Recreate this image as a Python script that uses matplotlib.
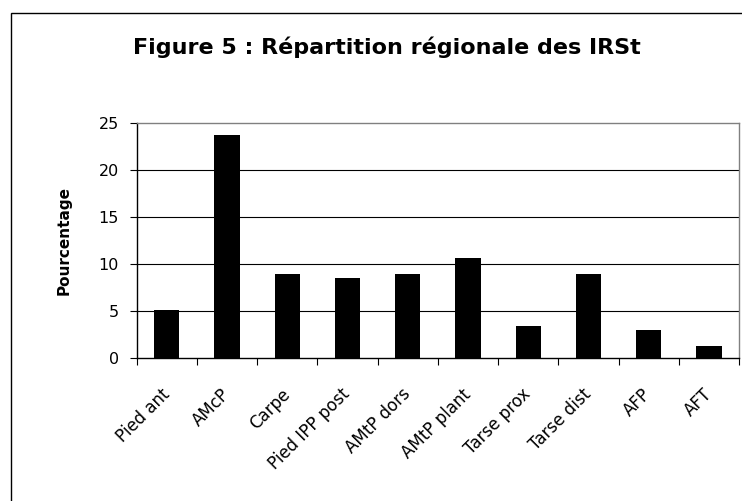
import matplotlib
matplotlib.use("Agg")
import matplotlib.pyplot as plt
from matplotlib.patches import Rectangle
import numpy as np

plt.rcParams['font.family'] = ['DejaVu Sans']

# données
regions = ['Pied ant', 'AMcP', 'Carpe', 'Pied IPP post', 'AMtP dors',
           'AMtP plant', 'Tarse prox', 'Tarse dist', 'AFP', 'AFT']
pourcentages = [5.1, 23.8, 9.0, 8.5, 9.0, 10.7, 3.4, 9.0, 3.0, 1.3]
yticks = [0, 5, 10, 15, 20, 25]

W, H = 742, 501
fig = plt.figure(figsize=(W / 100, H / 100), dpi=100)

# cadre extérieur (zone de graphique)
fig.patches.append(Rectangle((11 / W, -0.2), 1.2, (H - 13) / H + 0.2,
                             transform=fig.transFigure, fill=False,
                             edgecolor='black', linewidth=1.0))

ax = fig.add_axes([136.7 / W, 1 - 358.3 / H, (739 - 136.7) / W, (358.3 - 123.3) / H])

x = np.arange(len(regions))
ax.bar(x, pourcentages, width=0.42, color='black', zorder=3)

ax.set_xlim(-0.5, len(regions) - 0.5)
ax.set_ylim(0, 25)
ax.set_yticks(yticks)
ax.set_yticklabels([str(v) for v in yticks], fontsize=11.5)
for v in yticks[1:-1]:
    ax.axhline(v, color='black', linewidth=0.8, zorder=1)

# ticks aux frontières des catégories
ax.set_xticks(x)
ax.set_xticklabels(regions, rotation=45, ha='right', va='center',
                   rotation_mode='anchor', fontsize=12)
ax.tick_params(axis='x', which='major', length=0, pad=24)
ax.set_xticks(np.arange(-0.5, len(regions)), minor=True)
ax.tick_params(axis='x', which='minor', length=5, direction='out', width=0.8)
ax.tick_params(axis='y', length=5, direction='out', width=0.8, pad=8)

ax.spines['left'].set_color('black')
ax.spines['bottom'].set_color('black')
ax.spines['top'].set_color('#808080')
ax.spines['right'].set_color('#808080')
for s in ax.spines.values():
    s.set_linewidth(1.0)

ax.set_ylabel('Pourcentage', fontsize=11, fontweight='bold', labelpad=19)

fig.text(387 / W, 1 - 54 / H, 'Figure 5 : Répartition régionale des IRSt',
         ha='center', va='baseline', fontsize=16, fontweight='bold')

plt.savefig('out.png', dpi=100)
